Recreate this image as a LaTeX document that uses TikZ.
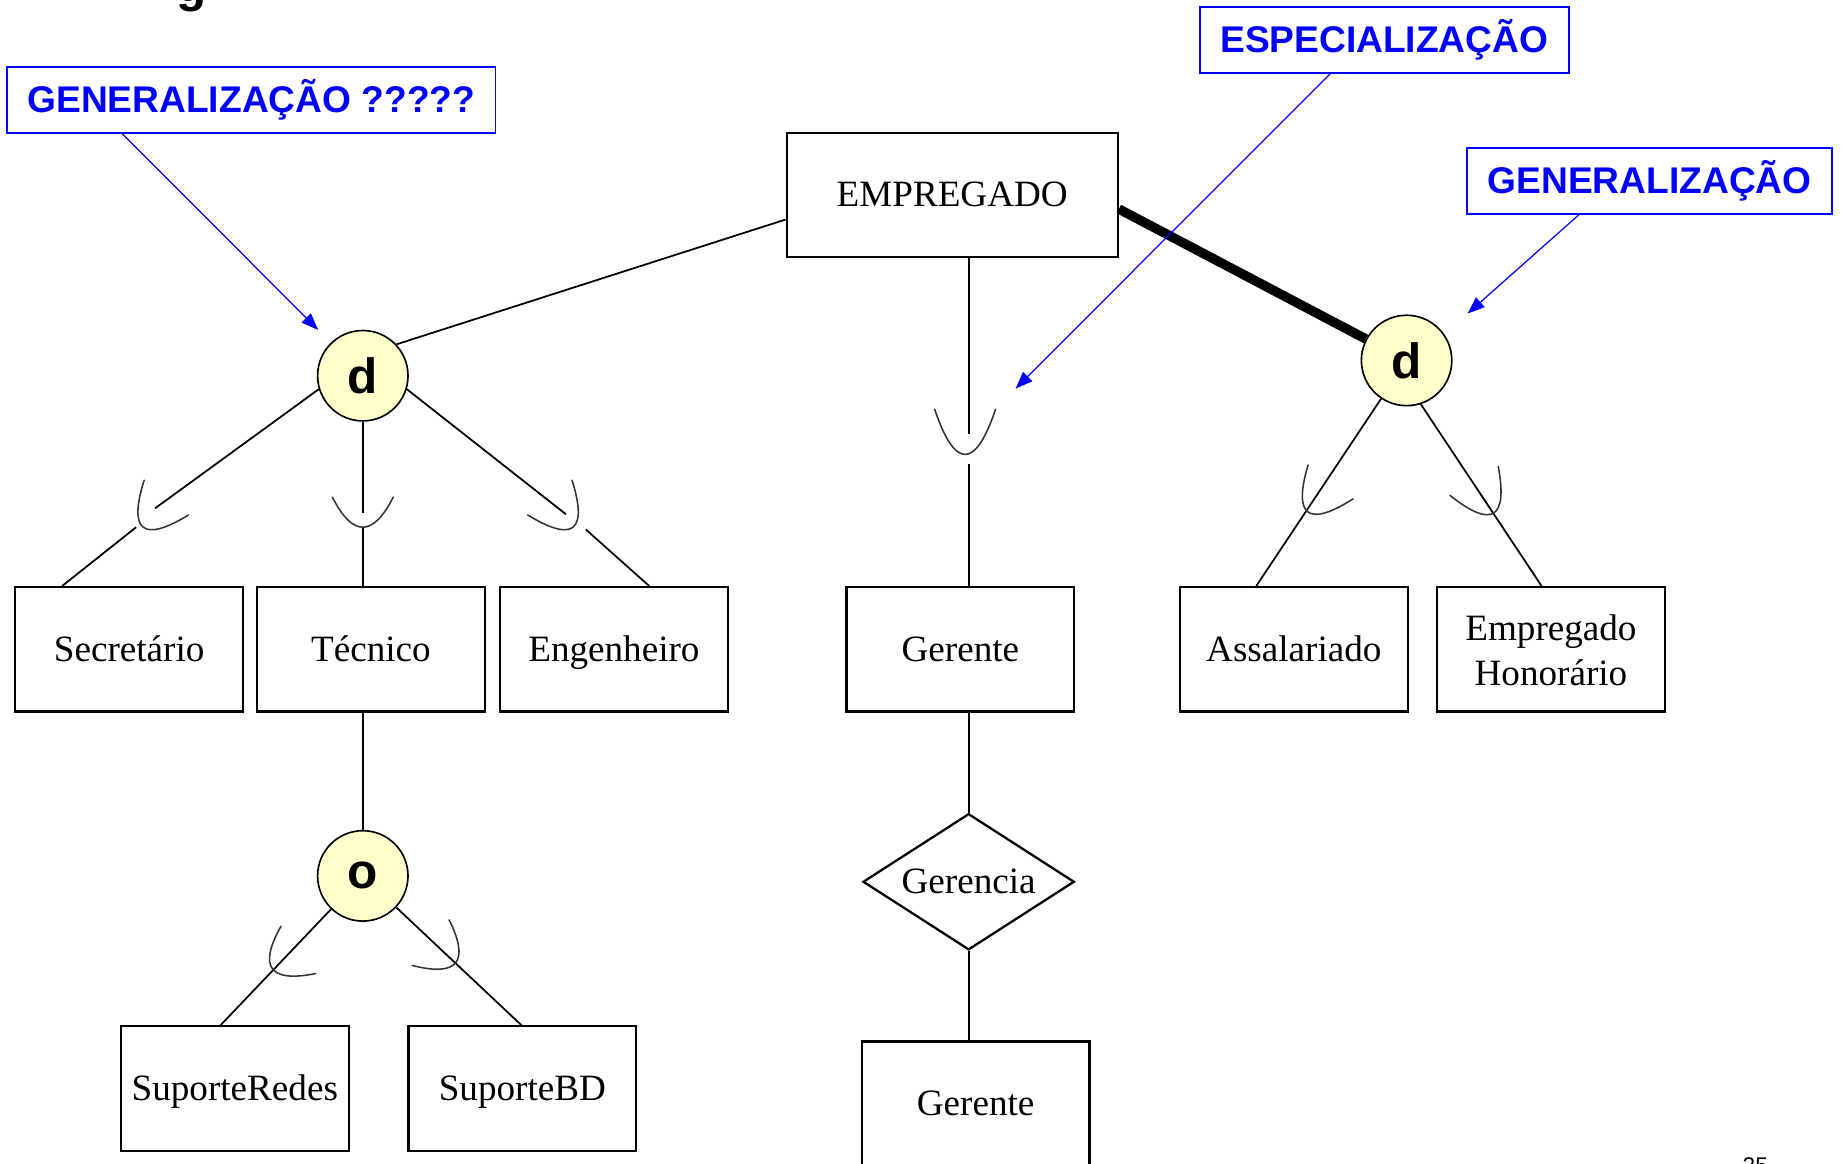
\documentclass[tikz,border=0pt]{standalone}
\usepackage{fontspec}
\setmainfont{Liberation Serif}
\setsansfont{Liberation Sans}
\usetikzlibrary{arrows.meta,positioning,shapes.geometric}
\definecolor{discfill}{HTML}{FFFFCC}

\begin{document}
\begin{tikzpicture}[x=0.2mm, y=-0.2mm,
      ent/.style={draw, line width=1.1pt, minimum width=38.8mm, minimum height=21.2mm,
                  inner sep=0pt, align=center, font=\fontsize{18}{21.6}\selectfont,
                  execute at begin node={\vphantom{Áp}}},
      rel/.style={draw, diamond, aspect=1.55, line width=1.1pt, minimum width=36mm,
                  minimum height=23.2mm, inner sep=0pt, font=\fontsize{18}{21.6}\selectfont},
      spec/.style={circle, draw, line width=0.8pt, fill=discfill, minimum size=15.4mm,
                   inner sep=0pt, font=\sffamily\bfseries\fontsize{24}{24}\selectfont},
      note/.style={draw=blue, line width=0.8pt, text=blue, inner xsep=3.5mm, inner ysep=2pt,
                   minimum height=11.2mm, font=\sffamily\bfseries\fontsize{18}{18}\selectfont},
      link/.style={line width=0.85pt},
      total/.style={line width=4.6pt},
      ptr/.style={blue, line width=0.6pt, -{Triangle[length=2.9mm, width=2.2mm]}},
      cupline/.style={line width=0.75pt, black!80, line cap=round},
      cup/.pic={\draw[cupline] (-24,-32) .. controls (-8,10.7) and (8,10.7) .. (24,-32);}]
    \useasboundingbox (0,0) rectangle (1568,991);
    % entities
    \node[ent, minimum width=56.4mm] (emp) at (811,166) {EMPREGADO};
    \node[ent] (secr) at (110,553) {Secretário};
    \node[ent, right=2mm of secr] (tec) {Técnico};
    \node[ent, right=2.2mm of tec] (eng) {Engenheiro};
    \node[ent] (ger) at (818,553) {Gerente};
    \node[ent] (assal) at (1102,553) {Assalariado};
    \node[ent, right=4.6mm of assal] (honor)
      {\raisebox{-0.8mm}[\height][\depth]{\begin{tabular}{@{}c@{}}Empregado\\Honorário\end{tabular}}};
    \node[ent] (sredes) at (200,927) {SuporteRedes};
    \node[ent, right=9.8mm of sredes] (sbd) {SuporteBD};
    \node[rel] (gcia) at (825,751) {Gerencia};
    \node[ent] (ger2) at (831,940) {Gerente};
    \node[spec] (dL) at (309,320) {d};
    \node[spec] (dR) at (1198,307) {d};
    \node[spec] (ov) at (309,746) {o};
    % annotations
    \node[note] (gen1) at (214,85) {GENERALIZAÇÃO ?????};
    \node[note] (espec) at (1179,34) {ESPECIALIZAÇÃO};
    \node[note] (gen2) at (1405,154) {GENERALIZAÇÃO};
    \node[font=\sffamily\bfseries\fontsize{24}{24}\selectfont, anchor=base, inner sep=0pt] (ttl) at (163,1) {g};
    \node[font=\sffamily\fontsize{11}{11}\selectfont, anchor=north, inner sep=0pt] (pg) at (1495,986) {25};
    % breaks around the subset cups
    \coordinate (s1) at (132,433); \coordinate (s2) at (116,449);
    \coordinate (t1) at (309,437); \coordinate (t2) at (309,449);
    \coordinate (e1) at (482,438); \coordinate (e2) at (499,451);
    \coordinate (m1) at (825,370); \coordinate (m2) at (825,395);
    \coordinate (p1) at (271,281); \coordinate (p2) at (865,331); \coordinate (p3) at (1250,267);
    % superclass links
    \draw[link] ([yshift=-4.2mm]emp.west) -- (dL.43);
    \draw[total] ([yshift=-2.4mm]emp.east) -- (dR);
    \draw[link] (emp.south -| gcia) -- (m1);
    \draw[link] (m2) -- (ger.north -| gcia);
    \draw[link] (tec.south -| ov) -- (ov);
    % subclass links
    \draw[link] (dL.197) -- (s1);
    \draw[link] (s2) -- ([xshift=-11.4mm]secr.north);
    \draw[link] (dL) -- (t1);
    \draw[link] (t2) -- (tec.north -| dL);
    \draw[link] (dL.-17) -- (e1);
    \draw[link] (e2) -- ([xshift=6mm]eng.north);
    \draw[link] (dR) -- ([xshift=-6.4mm]assal.north);
    \draw[link] (dR.288) -- ([xshift=-1.6mm]honor.north);
    \draw[link] (ov) -- ([xshift=-2.4mm]sredes.north);
    \draw[link] (ov) -- ([xshift=-0.2mm]sbd.north);
    % relationship
    \draw[link] (ger.south -| gcia) -- (gcia.north);
    \draw[link] (gcia.south) -- (ger2.north -| gcia);
    % subset cups
    \pic[rotate=-38] at (122,449) {cup};
    \pic[xscale=1.08, yscale=0.8] at (309,449) {cup};
    \pic[rotate=38] at (488,449) {cup};
    \pic[xscale=1.08, yscale=1.2] at (822,387) {cup};
    \pic[rotate=-37] at (1114,436) {cup};
    \pic[rotate=31] at (1272,437) {cup};
    \pic[rotate=-54, xscale=1.04, yscale=0.85] at (232,825) {cup};
    \pic[rotate=51, xscale=1.04, yscale=0.85] at (388,820) {cup};
    % pointers
    \draw[ptr] ([xshift=-22mm]gen1.south) -- (p1);
    \draw[ptr] ([xshift=-9.2mm]espec.south) -- (p2);
    \draw[ptr] ([xshift=-12mm]gen2.south) -- (p3);
  \end{tikzpicture}
\end{document}
